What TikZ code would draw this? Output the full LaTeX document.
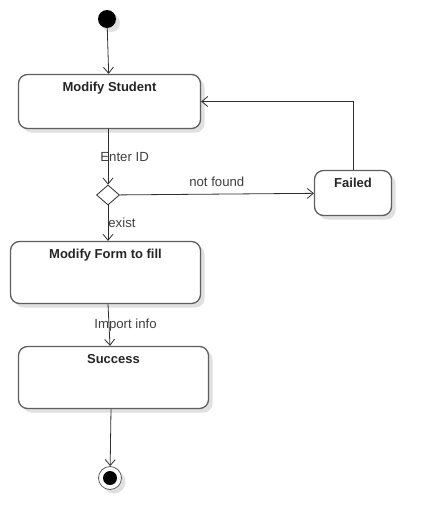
\documentclass[tikz,border=0pt]{standalone}
\usepackage{fontspec}
\setmainfont{Liberation Sans}
\usepackage{tikz}
\usetikzlibrary{arrows.meta,shapes.geometric,shadows}

\definecolor{boxline}{HTML}{5E5E5E}
\definecolor{wire}{HTML}{2E2E2E}
\definecolor{lbltext}{HTML}{404040}

\begin{document}
\begin{tikzpicture}[x=1pt,y=-1pt,
  shade/.style={drop shadow={shadow xshift=4pt,shadow yshift=-4pt,fill=black!12,opacity=1}},
  state/.style={draw=boxline,line width=1.3pt,rounded corners=9pt,fill=white,shade,inner sep=0pt},
  title/.style={font=\fontsize{13}{15}\selectfont\bfseries,text=black!85},
  arr/.style={wire,line width=0.8pt,-{Straight Barb[length=6pt,width=10pt]}},
  lbl/.style={font=\fontsize{13.2}{15}\selectfont,text=lbltext,inner sep=1pt}]
\useasboundingbox (0,0) rectangle (433,531);

% start and end
\node[circle,fill=black,minimum size=18pt,inner sep=0pt,shade] (init) at (107,19) {};
\node[circle,draw=boxline,line width=0.8pt,fill=white,minimum size=23pt,inner sep=0pt,shade] (final) at (110,478) {};
\fill[black] (final) circle (7pt);

% states
\node[state,minimum width=182pt,minimum height=54pt,
  label={[title,anchor=north,yshift=-5pt]north:Modify Student}] (modify) at (109.5,101.5) {};
\node[state,minimum width=77pt,minimum height=45pt,
  label={[title,anchor=north,yshift=-5pt]north:Failed}] (failed) at (353,193) {};
\node[state,minimum width=190pt,minimum height=62pt,
  label={[title,anchor=north,yshift=-5pt]north:Modify Form to fill}] (form) at (105.5,272.5) {};
\node[state,minimum width=190pt,minimum height=62pt,
  label={[title,anchor=north,yshift=-5pt]north:Success}] (success) at (113.5,377.5) {};

% decision
\node[diamond,draw=wire,line width=0.8pt,fill=white,minimum width=23pt,minimum height=20pt,inner sep=0pt] (check) at (108,195) {};

% transitions
\draw[arr] (init) -- (modify);
\draw[arr] (modify.south -| check) -- node[lbl,midway,anchor=west,xshift=-9pt]{Enter ID} (check);
\draw[arr] (check) -- node[lbl,midway,above=6pt]{not found} (failed);
\draw[arr] (failed.north) |- (modify.east);
\draw[arr] (check) -- node[lbl,midway,anchor=west,xshift=-1pt]{exist} (form.north -| check);
\draw[arr] (form.south -| check) -- node[lbl,midway,anchor=west,xshift=-16pt]{Import info} (success.north -| 110,0);
\draw[arr] (success.south -| 111,0) -- (final);
\end{tikzpicture}
\end{document}
